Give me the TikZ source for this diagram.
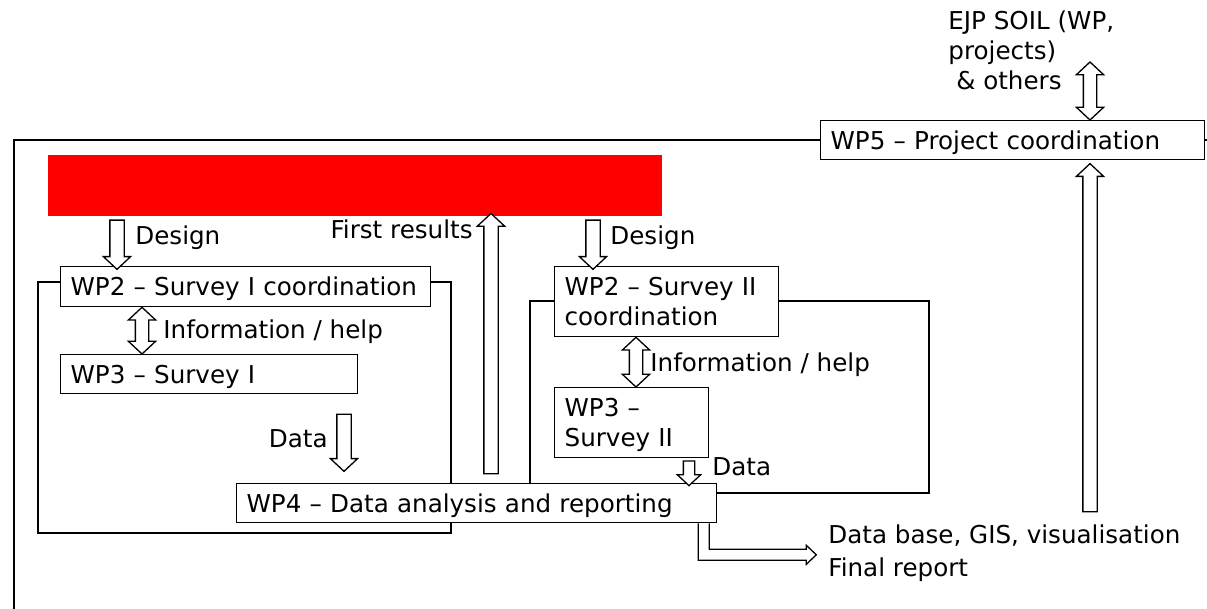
\documentclass[tikz,border=0pt]{standalone}
\usepackage{fontspec}
\setmainfont{DejaVu Sans}
\usetikzlibrary{arrows.meta,positioning,shapes.arrows,calc}
\newcommand{\wpfont}{\fontsize{12.3}{15}\selectfont}
\tikzset{
  wpbox/.style={draw, fill=white, line width=0.65pt, anchor=north west, align=left,
    inner xsep=5pt, inner ysep=0pt, text height=11pt, text depth=2pt, font=\wpfont},
  twoline/.style={text depth=17pt},
  lbl/.style={inner sep=0pt, font=\wpfont},
  frame/.style={line width=1.2pt},
  fatarrow/.style={single arrow, draw, fill=white, line width=0.65pt, inner xsep=0pt,
    inner ysep=3.25pt, minimum width=0pt, single arrow head extend=3.25pt, single arrow tip angle=94},
  fatboth/.style={double arrow, draw, fill=white, line width=0.65pt, inner xsep=0pt,
    inner ysep=3pt, minimum width=0pt, double arrow head extend=3.5pt, double arrow tip angle=94}
}
% hollow arrow between two points: name, from, to
\newcommand{\hollowarrow}[4][fatarrow]{%
  \path let \p1=(#3), \p2=(#4), \n1={atan2(\y2-\y1,\x2-\x1)}, \n2={veclen(\x2-\x1,\y2-\y1)} in
    node[#1, rotate=\n1, minimum height=\n2] (#2) at ($(\p1)!0.5!(\p2)$) {};}
\begin{document}
\begin{tikzpicture}[x=0.5pt, y=-0.5pt]
\useasboundingbox (0,0) rectangle (1207,609);
% Frames
\draw[frame] (14,609) -- (14,140) -- (1207,140);
\draw[frame] (38,282) rectangle (451,533);
\draw[frame] (530,301) rectangle (929,493);
% Boxes
\node[fill=red, inner sep=0pt, anchor=north west, minimum width=307pt, minimum height=30.5pt] (title) at (48,155) {};
\node[wpbox, text width=182pt, minimum height=19.5pt] (wp5) at (820,120) {WP5 – Project coordination};
\node[wpbox, text width=175pt, minimum height=20pt] (wp2a) at (60,266) {WP2 – Survey I coordination};
\node[wpbox, text width=138.5pt, minimum height=19.5pt] (wp3a) at (60,354) {WP3 – Survey I};
\node[wpbox, twoline, text width=102pt, minimum height=35pt] (wp2b) at (554,266) {WP2 – Survey II\\coordination};
\node[wpbox, twoline, text width=67pt, minimum height=35pt] (wp3b) at (554,387) {WP3 –\\Survey II};
\node[wpbox, text width=230pt, minimum height=19.5pt] (wp4) at (236,483) {WP4 – Data analysis and reporting};
% Free ends
\coordinate (ejpend) at (1090,62);
\coordinate (upfoot) at (1090,515);
\coordinate (uptip) at (1090,167);
\coordinate (resfoot) at (491,477);
\coordinate (data1top) at (344,411);
\coordinate (data1tip) at (344,468);
% Arrows
\hollowarrow[fatboth]{ejp}{ejpend}{1090,0 |- wp5.north}
\hollowarrow{up}{upfoot}{uptip}
\hollowarrow{des1}{117,0 |- title.south}{117,0 |- wp2a.north}
\hollowarrow{res}{resfoot}{491,0 |- title.south}
\hollowarrow{des2}{593,0 |- title.south}{593,0 |- wp2b.north}
\hollowarrow[fatboth]{info1}{142,0 |- wp2a.south}{142,0 |- wp3a.north}
\hollowarrow[fatboth]{info2}{636,0 |- wp2b.south}{636,0 |- wp3b.north}
\hollowarrow{data1}{data1top}{data1tip}
\hollowarrow[fatarrow, inner ysep=2.5pt, single arrow head extend=3pt]{data2}{689,0 |- wp3b.south}{689,0 |- wp4.north}
\begin{scope}[shift={(wp4.south east)}]
\draw[fill=white, line width=0.65pt] (-19,0) -- (-19,37) -- (89,37) -- (89,41) -- (99,31.5)
  -- (89,22) -- (89,26) -- (-8,26) -- (-8,0);
\end{scope}
% Labels
\node[lbl, anchor=base west, align=left] (ejptxt) at (948,90) {EJP SOIL (WP,\\projects)\\\hspace*{0.32em}\& others};
\node[lbl, anchor=base west] (des1txt) at (135,245) {Design};
\node[lbl, anchor=base east] (restxt) at (473,239) {First results};
\node[lbl, anchor=base west] (des2txt) at (610,245) {Design};
\node[lbl, anchor=base west] (info1txt) at (163,339) {Information / help};
\node[lbl, anchor=base east] (data1txt) at (328,448) {Data};
\node[lbl, anchor=base west] (info2txt) at (650,372) {Information / help};
\node[lbl, anchor=base west] (data2txt) at (712,476) {Data};
\node[lbl, anchor=base west] (outtxt) at (828,544) {Data base, GIS, visualisation};
\node[lbl, anchor=base west] (reptxt) at (828,577) {Final report};
\end{tikzpicture}
\end{document}
